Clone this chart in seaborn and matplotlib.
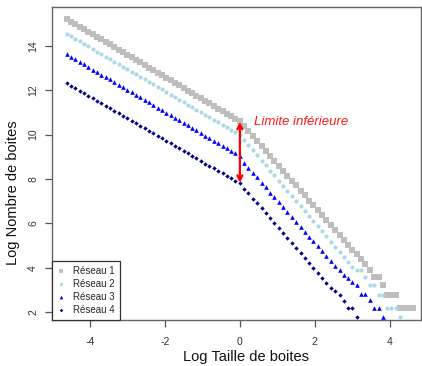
import matplotlib
matplotlib.use("Agg")
import matplotlib.pyplot as plt
import seaborn as sns
import pandas as pd

log_taille = [-4.62, -4.50, -4.39, -4.27, -4.16, -4.04, -3.93, -3.81, -3.70, -3.58,
              -3.47, -3.35, -3.23, -3.12, -3.00, -2.89, -2.77, -2.66, -2.54, -2.43,
              -2.31, -2.19, -2.08, -1.96, -1.85, -1.73, -1.62, -1.50, -1.39, -1.27,
              -1.16, -1.04, -0.92, -0.81, -0.69, -0.58, -0.46, -0.35, -0.23, -0.12,
              0.00, 0.12, 0.23, 0.35, 0.46, 0.58, 0.69, 0.81, 0.92, 1.04,
              1.16, 1.27, 1.39, 1.50, 1.62, 1.73, 1.85, 1.96, 2.08, 2.19,
              2.31, 2.43, 2.54, 2.66, 2.77, 2.89, 3.00, 3.12, 3.23, 3.35,
              3.47, 3.58, 3.70, 3.81, 3.93, 4.04, 4.16, 4.27, 4.39, 4.50, 4.62]

reseau1 = [15.22, 15.10, 14.99, 14.87, 14.76, 14.64, 14.53, 14.41, 14.30, 14.18,
           14.07, 13.95, 13.83, 13.72, 13.60, 13.49, 13.37, 13.26, 13.14, 13.03,
           12.91, 12.79, 12.68, 12.56, 12.45, 12.33, 12.22, 12.10, 11.99, 11.87,
           11.76, 11.64, 11.52, 11.41, 11.29, 11.18, 11.06, 10.95, 10.83, 10.72,
           10.60,
           10.37, 10.16, 9.92, 9.71, 9.48, 9.27, 9.04, 8.82, 8.59,
           8.36, 8.15, 7.92, 7.71, 7.47, 7.26, 7.03, 6.82, 6.59, 6.37,
           6.14, 5.91, 5.70, 5.47, 5.25, 5.02, 4.81, 4.61, 4.39, 4.16,
           3.89, 3.58, 3.58, 3.22, 2.77, 2.77, 2.77, 2.20, 2.20, 2.20, 2.20]

reseau2 = [14.55, 14.44, 14.33, 14.21, 14.10, 13.98, 13.87, 13.75, 13.64, 13.52,
           13.42, 13.30, 13.18, 13.07, 12.95, 12.84, 12.72, 12.61, 12.50, 12.39,
           12.27, 12.15, 12.04, 11.92, 11.81, 11.69, 11.58, 11.47, 11.36, 11.24,
           11.13, 11.01, 10.89, 10.78, 10.66, 10.55, 10.44, 10.33, 10.21, 10.10,
           9.98,
           9.74, 9.52, 9.29, 9.07, 8.83, 8.61, 8.38, 8.16, 7.92,
           7.68, 7.47, 7.23, 7.01, 6.77, 6.55, 6.32, 6.10, 5.86, 5.64,
           5.41, 5.17, 4.95, 4.71, 4.50, 4.26, 4.04, 3.89, 3.89, 3.58,
           3.22, 3.22, 2.77, 2.77, 2.20, 2.20, 2.20, 1.79]

reseau3 = [13.62, 13.51, 13.40, 13.28, 13.17, 13.05, 12.94, 12.82, 12.71, 12.59,
           12.49, 12.37, 12.25, 12.14, 12.02, 11.91, 11.79, 11.68, 11.56, 11.46,
           11.34, 11.22, 11.11, 10.99, 10.88, 10.76, 10.65, 10.54, 10.43, 10.31,
           10.20, 10.08, 9.96, 9.85, 9.73, 9.62, 9.51, 9.40, 9.28, 9.17,
           9.05,
           8.72, 8.51, 8.28, 8.07, 7.84, 7.63, 7.39, 7.18, 6.95,
           6.72, 6.51, 6.28, 6.07, 5.84, 5.63, 5.40, 5.19, 4.96, 4.75,
           4.51, 4.28, 4.07, 3.89, 3.66, 3.53, 3.37, 3.22, 2.83, 2.83,
           2.56, 2.20, 2.20, 1.79]

reseau4 = [12.33, 12.21, 12.10, 11.99, 11.88, 11.76, 11.65, 11.53, 11.43, 11.31,
           11.20, 11.08, 10.97, 10.86, 10.74, 10.63, 10.52, 10.41, 10.29, 10.18,
           10.06, 9.95, 9.84, 9.72, 9.61, 9.50, 9.39, 9.27, 9.16, 9.05,
           8.94, 8.82, 8.70, 8.59, 8.48, 8.37, 8.25, 8.14, 8.03, 7.92,
           7.80,
           7.57, 7.35, 7.12, 6.91, 6.67, 6.46, 6.23, 6.02, 5.78,
           5.55, 5.34, 5.10, 4.89, 4.66, 4.44, 4.21, 4.00, 3.76, 3.55,
           3.33, 3.09, 2.94, 2.77, 2.48, 2.20, 2.20, 1.79]

noms = ["Réseau 1", "Réseau 2", "Réseau 3", "Réseau 4"]
couleurs = ["#BEBEBE", "#ADD8E6", "#0000FF", "#00008B"]
marqueurs = ["s", "o", "^", "D"]
tailles = [14, 9, 11, 5]

x_ticks = [-4, -2, 0, 2, 4]
y_ticks = [2, 4, 6, 8, 10, 12, 14]
limite_haut = 10.58
limite_bas = 7.83

sns.set_style("ticks")
plt.rcParams['font.family'] = ['Liberation Sans', 'DejaVu Sans']

fig = plt.figure(figsize=(4.22, 3.66), dpi=100)
ax = fig.add_axes([52 / 422, 1 - 320 / 366, 369 / 422, 313 / 366])

for nom, ys, c, m, s in zip(noms, [reseau1, reseau2, reseau3, reseau4],
                            couleurs, marqueurs, tailles):
    df = pd.DataFrame({"x": log_taille[:len(ys)], "y": ys})
    sns.scatterplot(data=df, x="x", y="y", marker=m, color=c, s=s,
                    linewidth=0, ax=ax, label=nom, zorder=3)

ax.annotate("", xy=(0, limite_haut), xytext=(0, limite_bas),
            arrowprops=dict(arrowstyle="<->", color="red", lw=1.6,
                            mutation_scale=9, shrinkA=0, shrinkB=0), zorder=5)
ax.text(0.37, limite_haut, "Limite inférieure", color="#FF1A1A",
        style="italic", fontsize=9.5, va="center", ha="left")

ax.set_xlim(-5.01, 4.83)
ax.set_ylim(1.64, 15.76)
ax.set_xticks(x_ticks)
ax.set_yticks(y_ticks)
ax.set_xticklabels([str(t) for t in x_ticks])
ax.set_yticklabels([str(t) for t in y_ticks], rotation=90, va="center")

ax.tick_params(axis="both", length=5, width=0.9, color="#555555",
               labelsize=7.5, labelcolor="#333333")
ax.tick_params(axis="x", pad=7)
ax.tick_params(axis="y", pad=5)

for sp in ax.spines.values():
    sp.set_visible(True)
    sp.set_color("#666666")
    sp.set_linewidth(1.0)

ax.set_xlabel("Log Taille de boites", fontsize=10.5, color="#111111")
ax.set_ylabel("Log Nombre de boites", fontsize=10.5, color="#111111")
ax.xaxis.set_label_coords(0.526, -0.097)
ax.yaxis.set_label_coords(-0.088, 0.406)

leg = ax.legend(loc="lower left", bbox_to_anchor=(0, 0), borderaxespad=0,
                fontsize=7, frameon=True, fancybox=False, edgecolor="#333333",
                handlelength=0.8, handletextpad=0.8, labelspacing=0.3,
                borderpad=0.55, markerscale=0.8)
leg.get_frame().set_linewidth(0.9)
leg.get_frame().set_alpha(1)

fig.savefig("out.png", dpi=100)
